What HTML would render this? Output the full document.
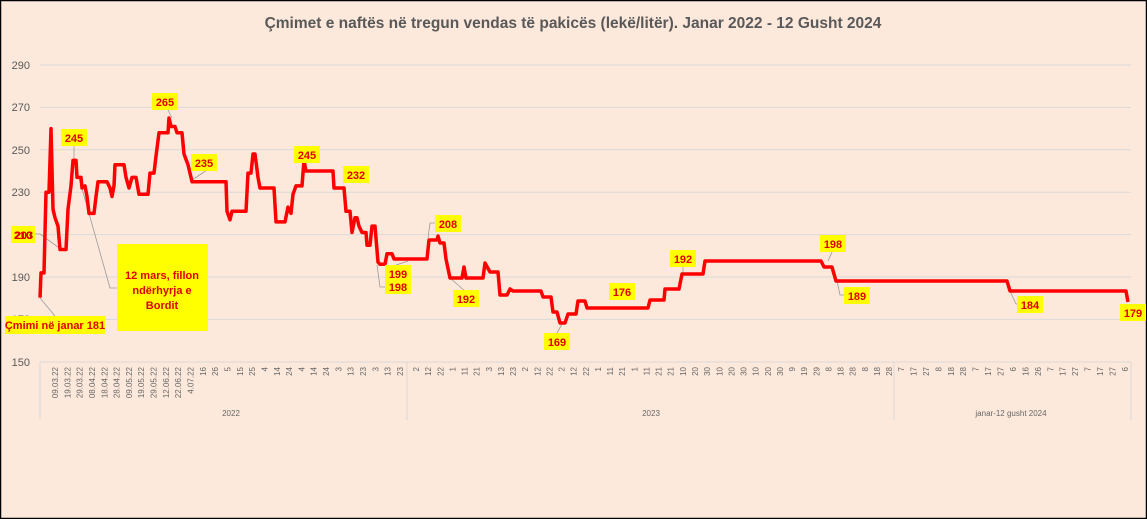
<!DOCTYPE html>
<html><head><meta charset="utf-8"><style>
body{margin:0;background:#fff}
svg{display:block;font-family:"Liberation Sans",sans-serif}
.t{font-size:8px;fill:#666}
.y{font-size:11px;fill:#595959}
.l{font-size:11px;font-weight:bold;fill:#e00000}
</style></head><body>
<svg width="1147" height="519" viewBox="0 0 1147 519">
<rect x="0" y="0" width="1147" height="519" fill="#fde9dc"/>
<rect x="0.5" y="0.5" width="1146" height="518" fill="none" stroke="#000" stroke-width="1.5"/>
<text x="573" y="28" text-anchor="middle" font-size="15.5" font-weight="bold" fill="#595959">Çmimet e naftës në tregun vendas të pakicës (lekë/litër). Janar 2022 - 12 Gusht 2024</text>
<g stroke="#d9d9d9" stroke-width="1">
<line x1="40" y1="65" x2="1131" y2="65"/><line x1="40" y1="107.4" x2="1131" y2="107.4"/><line x1="40" y1="149.8" x2="1131" y2="149.8"/><line x1="40" y1="192.2" x2="1131" y2="192.2"/><line x1="40" y1="234.6" x2="1131" y2="234.6"/><line x1="40" y1="277" x2="1131" y2="277"/><line x1="40" y1="319.4" x2="1131" y2="319.4"/><line x1="40" y1="362" x2="1131" y2="362"/>
<line x1="40" y1="362" x2="40" y2="420"/><line x1="407" y1="362" x2="407" y2="420"/><line x1="894" y1="362" x2="894" y2="420"/><line x1="1131" y1="362" x2="1131" y2="420"/>
</g>
<g class="y" text-anchor="end">
<text x="30" y="69">290</text><text x="30" y="111">270</text><text x="30" y="154">250</text><text x="30" y="196">230</text><text x="30" y="281">190</text><text x="30" y="323">170</text><text x="30" y="366">150</text>
</g>
<g class="t" text-anchor="end">
<text transform="translate(58,367) rotate(-90)">09.03.22</text><text transform="translate(70.3,367) rotate(-90)">19.03.22</text><text transform="translate(82.6,367) rotate(-90)">29.03.22</text><text transform="translate(95,367) rotate(-90)">08.04.22</text><text transform="translate(107.3,367) rotate(-90)">18.04.22</text><text transform="translate(119.6,367) rotate(-90)">28.04.22</text><text transform="translate(131.9,367) rotate(-90)">09.05.22</text><text transform="translate(144.2,367) rotate(-90)">19.05.22</text><text transform="translate(156.6,367) rotate(-90)">29.05.22</text><text transform="translate(168.9,367) rotate(-90)">12.06.22</text><text transform="translate(181.2,367) rotate(-90)">22.06.22</text><text transform="translate(193.5,367) rotate(-90)">4.07.22</text>
<text transform="translate(205.8,367) rotate(-90)">16</text><text transform="translate(218.2,367) rotate(-90)">26</text><text transform="translate(230.5,367) rotate(-90)">5</text><text transform="translate(242.8,367) rotate(-90)">15</text><text transform="translate(255.1,367) rotate(-90)">25</text><text transform="translate(267.4,367) rotate(-90)">4</text><text transform="translate(279.8,367) rotate(-90)">14</text><text transform="translate(292.1,367) rotate(-90)">24</text><text transform="translate(304.4,367) rotate(-90)">4</text><text transform="translate(316.7,367) rotate(-90)">14</text><text transform="translate(329,367) rotate(-90)">24</text><text transform="translate(341.4,367) rotate(-90)">3</text><text transform="translate(353.7,367) rotate(-90)">13</text><text transform="translate(366,367) rotate(-90)">23</text><text transform="translate(378.3,367) rotate(-90)">3</text><text transform="translate(390.6,367) rotate(-90)">13</text><text transform="translate(403,367) rotate(-90)">23</text>
<text transform="translate(419,367) rotate(-90)">2</text><text transform="translate(431.1,367) rotate(-90)">12</text><text transform="translate(443.3,367) rotate(-90)">22</text><text transform="translate(455.4,367) rotate(-90)">1</text><text transform="translate(467.5,367) rotate(-90)">11</text><text transform="translate(479.7,367) rotate(-90)">21</text><text transform="translate(491.8,367) rotate(-90)">3</text><text transform="translate(503.9,367) rotate(-90)">13</text><text transform="translate(516,367) rotate(-90)">23</text><text transform="translate(528.2,367) rotate(-90)">2</text><text transform="translate(540.3,367) rotate(-90)">12</text><text transform="translate(552.4,367) rotate(-90)">22</text><text transform="translate(564.6,367) rotate(-90)">2</text><text transform="translate(576.7,367) rotate(-90)">12</text><text transform="translate(588.8,367) rotate(-90)">22</text><text transform="translate(600.9,367) rotate(-90)">1</text><text transform="translate(613.1,367) rotate(-90)">11</text><text transform="translate(625.2,367) rotate(-90)">21</text><text transform="translate(637.3,367) rotate(-90)">1</text><text transform="translate(649.5,367) rotate(-90)">11</text><text transform="translate(661.6,367) rotate(-90)">21</text><text transform="translate(673.7,367) rotate(-90)">21</text><text transform="translate(685.9,367) rotate(-90)">10</text><text transform="translate(698,367) rotate(-90)">20</text><text transform="translate(710.1,367) rotate(-90)">30</text><text transform="translate(722.3,367) rotate(-90)">10</text><text transform="translate(734.4,367) rotate(-90)">20</text><text transform="translate(746.5,367) rotate(-90)">30</text><text transform="translate(758.6,367) rotate(-90)">10</text><text transform="translate(770.8,367) rotate(-90)">20</text><text transform="translate(782.9,367) rotate(-90)">30</text><text transform="translate(795,367) rotate(-90)">9</text><text transform="translate(807.2,367) rotate(-90)">19</text><text transform="translate(819.3,367) rotate(-90)">29</text><text transform="translate(831.4,367) rotate(-90)">8</text><text transform="translate(843.6,367) rotate(-90)">18</text><text transform="translate(855.7,367) rotate(-90)">28</text><text transform="translate(867.8,367) rotate(-90)">8</text><text transform="translate(879.9,367) rotate(-90)">18</text><text transform="translate(892,367) rotate(-90)">28</text>
<text transform="translate(904,367) rotate(-90)">7</text><text transform="translate(916.4,367) rotate(-90)">17</text><text transform="translate(928.9,367) rotate(-90)">27</text><text transform="translate(941.3,367) rotate(-90)">8</text><text transform="translate(953.8,367) rotate(-90)">18</text><text transform="translate(966.2,367) rotate(-90)">28</text><text transform="translate(978.6,367) rotate(-90)">7</text><text transform="translate(991.1,367) rotate(-90)">17</text><text transform="translate(1003.5,367) rotate(-90)">27</text><text transform="translate(1016,367) rotate(-90)">6</text><text transform="translate(1028.4,367) rotate(-90)">16</text><text transform="translate(1040.8,367) rotate(-90)">26</text><text transform="translate(1053.3,367) rotate(-90)">7</text><text transform="translate(1065.7,367) rotate(-90)">17</text><text transform="translate(1078.2,367) rotate(-90)">27</text><text transform="translate(1090.6,367) rotate(-90)">7</text><text transform="translate(1103,367) rotate(-90)">17</text><text transform="translate(1115.5,367) rotate(-90)">27</text><text transform="translate(1127.9,367) rotate(-90)">6</text>
</g>
<g class="t" text-anchor="middle" font-size="8.5">
<text x="231" y="416">2022</text><text x="651" y="416">2023</text><text x="1011" y="416">janar-12 gusht 2024</text>
</g>
<g stroke="#999" stroke-width="0.8" fill="none">
<polyline points="40,298 55,316"/>
<polyline points="15,234 40,234 62,250"/>
<polyline points="74,145 74,160"/>
<polyline points="79,178 110,288 118,288"/>
<polyline points="167,108 172,118"/>
<polyline points="192,180 207,170"/>
<polyline points="377,265 380,287 387,287"/>
<polyline points="396,265 408,261"/>
<polyline points="428,238 430,223 436,223"/>
<polyline points="450,278 466,292"/>
<polyline points="557,333 562,324"/>
<polyline points="683,266 683,274"/>
<polyline points="833,250 828,261"/>
<polyline points="837,281 840,295 848,295"/>
<polyline points="1010,291 1016,304 1020,304"/>
</g>
<polyline fill="none" stroke="#ff0000" stroke-width="3.5" stroke-linejoin="round" points="
40,297.7 41,272.9 44,272.9 46,192.2 49,192.2 51,128.6 53,209.2 55,217.7 58,226.1 60,249.5 66,249.5 68,209.2 71,185.9 73,160.4 76,160.4 77,177.4 81,177.4 82,188 85,185.9 87,196.5 89,213.4 94,213.4 96,196.5 98,181.7 107,181.7 110,188 112,196.5 114,185.9 115,164.7 124,164.7 126,177.4 129,188 132,177.4 136,177.4 139,194.3 148,194.3 150,173.1 154,173.1 156,156.2 159,132.8 168,132.8 169,118 171,126.5 175,126.5 177,132.8 182,132.8 184,154 188,164.7 192,181.7 226,181.7 227,211.3 230,219.8 232,211.3 246,211.3 248,173.1 251,173.1 253,154 255,154 258,177.4 260,188 274,188 276,221.9 285,221.9 288,207.1 291,213.4 293,194.3 296,185.9 302,185.9 304,160.4 306,171 333,171 334,188 344,188 346,211.3 350,211.3 352,232.5 355,217.7 357,217.7 359,226.1 362,232.5 366,232.5 367,245.2 370,245.2 372,226.1 375,226.1 378,262.2 380,264.3 385,264.3 387,253.7 392,253.7 394,259 427,259 429,240 437,240 438,236 440,243 444,243 446,259 450,278 462,278 464,267 466,278 483,278 485,263 490,272 498,272 500,295 507,295 510,289 513,291 541,291 543,297 551,297 553,312 557,312 560,323 565,323 568,314 576,314 578,301 585,301 587,308 648,308 650,300 664,300 665,289 679,289 682,274 703,274 705,261 821,261 824,267 832,267 836,281 1007,281 1010,291 1126,291 1128,302"/>
<g>
<rect x="61" y="129" width="26" height="17" fill="#ffff00"/><text class="l" x="74" y="142" text-anchor="middle">245</text>
<rect x="152" y="93" width="26" height="17" fill="#ffff00"/><text class="l" x="165" y="106" text-anchor="middle">265</text>
<rect x="191" y="154" width="26" height="17" fill="#ffff00"/><text class="l" x="204" y="167" text-anchor="middle">235</text>
<rect x="294" y="146" width="26" height="17" fill="#ffff00"/><text class="l" x="307" y="159" text-anchor="middle">245</text>
<rect x="343" y="166" width="26" height="17" fill="#ffff00"/><text class="l" x="356" y="179" text-anchor="middle">232</text>
<rect x="11" y="226" width="24" height="17" fill="#ffff00"/><text class="l" x="23" y="239" text-anchor="middle" fill="#b8a000">210</text><text class="l" x="24" y="239" text-anchor="middle">203</text>
<rect x="117" y="244" width="91" height="87" fill="#ffff00"/>
<text class="l" x="162" y="279" text-anchor="middle">12 mars, fillon</text><text class="l" x="162" y="294" text-anchor="middle">ndërhyrja  e</text><text class="l" x="162" y="309" text-anchor="middle">Bordit</text>
<rect x="5" y="316" width="100" height="18" fill="#ffff00"/><text class="l" x="55" y="329" text-anchor="middle" font-size="10.5">Çmimi në  janar 181</text>
<rect x="385" y="265" width="26" height="29" fill="#ffff00"/><text class="l" x="398" y="278" text-anchor="middle">199</text><text class="l" x="398" y="291" text-anchor="middle">198</text>
<rect x="435" y="215" width="26" height="17" fill="#ffff00"/><text class="l" x="448" y="228" text-anchor="middle">208</text>
<rect x="453" y="290" width="26" height="17" fill="#ffff00"/><text class="l" x="466" y="303" text-anchor="middle">192</text>
<rect x="544" y="333" width="26" height="17" fill="#ffff00"/><text class="l" x="557" y="346" text-anchor="middle">169</text>
<rect x="609" y="283" width="26" height="17" fill="#ffff00"/><text class="l" x="622" y="296" text-anchor="middle">176</text>
<rect x="670" y="250" width="26" height="17" fill="#ffff00"/><text class="l" x="683" y="263" text-anchor="middle">192</text>
<rect x="820" y="235" width="26" height="17" fill="#ffff00"/><text class="l" x="833" y="248" text-anchor="middle">198</text>
<rect x="844" y="287" width="26" height="17" fill="#ffff00"/><text class="l" x="857" y="300" text-anchor="middle">189</text>
<rect x="1017" y="296" width="26" height="17" fill="#ffff00"/><text class="l" x="1030" y="309" text-anchor="middle">184</text>
<rect x="1120" y="304" width="26" height="17" fill="#ffff00"/><text class="l" x="1133" y="317" text-anchor="middle">179</text>
</g>
</svg>
</body></html>
